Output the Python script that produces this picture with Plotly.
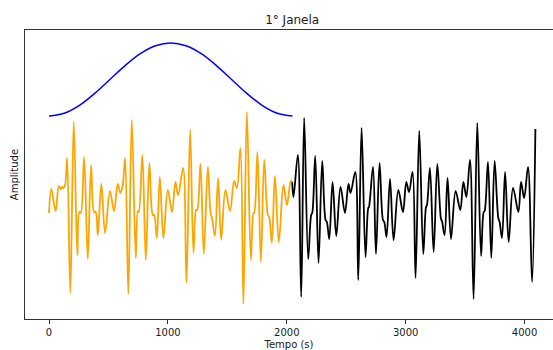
import plotly.graph_objects as go

# Hann window (offset and scaled for display)
window_t = [0, 128, 256, 384, 512, 640, 768, 896, 1024, 1152, 1280, 1408, 1536, 1664, 1792, 1920, 2047]
window_amp = [9.4, 9.68, 10.47, 11.66, 13.05, 14.44, 15.63, 16.42, 16.7,
              16.42, 15.63, 14.44, 13.05, 11.66, 10.47, 9.68, 9.4]

# First window of the signal (orange)
win1_t = [0, 19, 56, 82, 98, 112, 120, 135, 152, 179, 208, 238, 255, 267, 295, 326, 354, 379, 393, 410,
          440, 471, 513, 547, 578, 600, 620, 640, 667, 696, 730, 747, 755, 785, 814, 844, 873, 884, 907,
          932, 962, 999, 1035, 1063, 1086, 1128, 1156, 1187, 1215, 1237, 1246, 1274, 1302, 1336, 1361,
          1369, 1395, 1422, 1448, 1484, 1523, 1557, 1580, 1610, 1635, 1664, 1698, 1720, 1726, 1753, 1782,
          1810, 1841, 1852, 1874, 1900, 1933, 1972, 2001, 2034, 2045]
win1_amp = [-0.3, 2.1, -0.1, 2.4, 2.1, 2.3, 2.2, 2.5, 5.2, -8.3, 8.8, -4.5, -0.2, -0.3, 5.3, -4.9, 4.5, -0.2, -0.2, -2.5,
            2.6, -2.3, 1.9, -0.1, 2.6, 1.7, 2.5, 5.2, -8.4, 9.0, -4.8, -0.1, -0.2, 5.5, -5.0, 4.7, -0.5, -0.5, -2.8,
            3.3, -2.8, 2.0, -0.2, 2.8, 1.5, 4.2, -7.3, 8.0, -4.3, 0.0, 0.0, 4.6, -4.4, 4.3, -0.5,
            -0.7, -2.6, 3.2, -3.0, 2.0, -0.1, 2.9, 2.2, 6.2, -9.4, 9.8, -5.0, -0.3, -0.3, 5.8, -5.2,
            5.0, -0.5, -0.7, -3.3, 3.4, -3.2, 2.5, 0.5, 2.9, 2.8]

# Remaining signal (black)
rest_t = [2045, 2056, 2093, 2121, 2146, 2180, 2205, 2214, 2239, 2267, 2298, 2326, 2337, 2357, 2385, 2416, 2452,
          2489, 2519, 2536, 2576, 2601, 2629, 2662, 2685, 2691, 2725, 2750, 2780, 2809, 2820, 2839, 2868,
          2898, 2938, 2977, 3005, 3028, 3058, 3083, 3114, 3148, 3171, 3179, 3204, 3235, 3266, 3297, 3305,
          3327, 3352, 3381, 3420, 3459, 3485, 3510, 3541, 3571, 3602, 3634, 3656, 3664, 3692, 3720, 3748,
          3779, 3790, 3810, 3836, 3866, 3903, 3948, 3970, 3996, 4029, 4063, 4091]
rest_amp = [2.8, 1.3, 5.5, -8.7, 9.2, -4.9, -0.5, -0.3, 5.4, -5.3, 4.9, -1.0, -1.2, -2.9, 2.8, -2.6, 2.3,
            -0.3, 2.6, 1.7, 3.8, -7.0, 8.2, -4.7, 0.2, 0.3, 4.3, -4.4, 4.7, -1.0, -1.2, -2.7, 3.1,
            -3.0, 2.0, -0.2, 2.8, 1.8, 3.8, -6.8, 7.9, -4.4, 0.3, 0.5, 4.2, -4.2, 4.6, -0.9, -1.1,
            -2.5, 3.2, -2.9, 1.9, 0.0, 2.8, 1.3, 5.0, -8.9, 8.7, -4.6, -0.2, -0.1, 4.8, -4.8, 4.9,
            -0.8, -1.2, -2.8, 3.8, -3.2, 2.2, -0.2, 2.8, 1.2, 4.3, -7.2, 8.1]

x_ticks = [0, 1000, 2000, 3000, 4000]

FONT = "DejaVu Sans"
TXT = "#1a1a1a"

fig = go.Figure()
fig.add_trace(go.Scatter(x=rest_t, y=rest_amp, mode="lines",
                         line=dict(color="black", width=1.8, shape="spline", smoothing=1.0),
                         showlegend=False, hoverinfo="skip"))
fig.add_trace(go.Scatter(x=win1_t, y=win1_amp, mode="lines",
                         line=dict(color="#FFA500", width=1.8, shape="spline", smoothing=1.0),
                         showlegend=False, hoverinfo="skip"))
fig.add_trace(go.Scatter(x=window_t, y=window_amp, mode="lines",
                         line=dict(color="#0000FF", width=1.5, shape="spline"),
                         showlegend=False, hoverinfo="skip"))

fig.update_layout(
    width=553, height=350,
    margin=dict(l=25, r=0, t=30, b=31),
    paper_bgcolor="white", plot_bgcolor="white",
    font=dict(family=FONT, size=10, color=TXT),
    title=dict(text="1° Janela", x=0.506, xref="paper", xanchor="center",
               y=1 - 19.5 / 350, yref="container", yanchor="middle",
               font=dict(family=FONT, size=12, color=TXT)),
)
fig.update_xaxes(
    range=[-202, 4239], tickvals=x_ticks, ticktext=[str(v) for v in x_ticks],
    showgrid=False, zeroline=False,
    showline=True, linecolor="#333", linewidth=1, mirror=True,
    ticks="outside", ticklen=3.5, tickcolor="#333", tickwidth=1,
    tickfont=dict(family=FONT, size=10, color=TXT),
    title=dict(text="Tempo (s)", standoff=6, font=dict(family=FONT, size=10, color=TXT)),
    automargin=False,
)
fig.update_yaxes(
    range=[-10.9, 18.0], showticklabels=False, ticks="",
    showgrid=False, zeroline=False,
    showline=True, linecolor="#333", linewidth=1, mirror=False,
    title=dict(text="Amplitude", standoff=3, font=dict(family=FONT, size=10, color=TXT)),
    automargin=False,
)

fig.write_html("out.html", config={"displayModeBar": False})

# remove the browser's default page margin so the figure fills the window
with open("out.html", "r", encoding="utf-8") as f:
    html = f.read()
html = html.replace("<head>", "<head><style>html,body{margin:0;padding:0;overflow:hidden;}</style>", 1)
with open("out.html", "w", encoding="utf-8") as f:
    f.write(html)
